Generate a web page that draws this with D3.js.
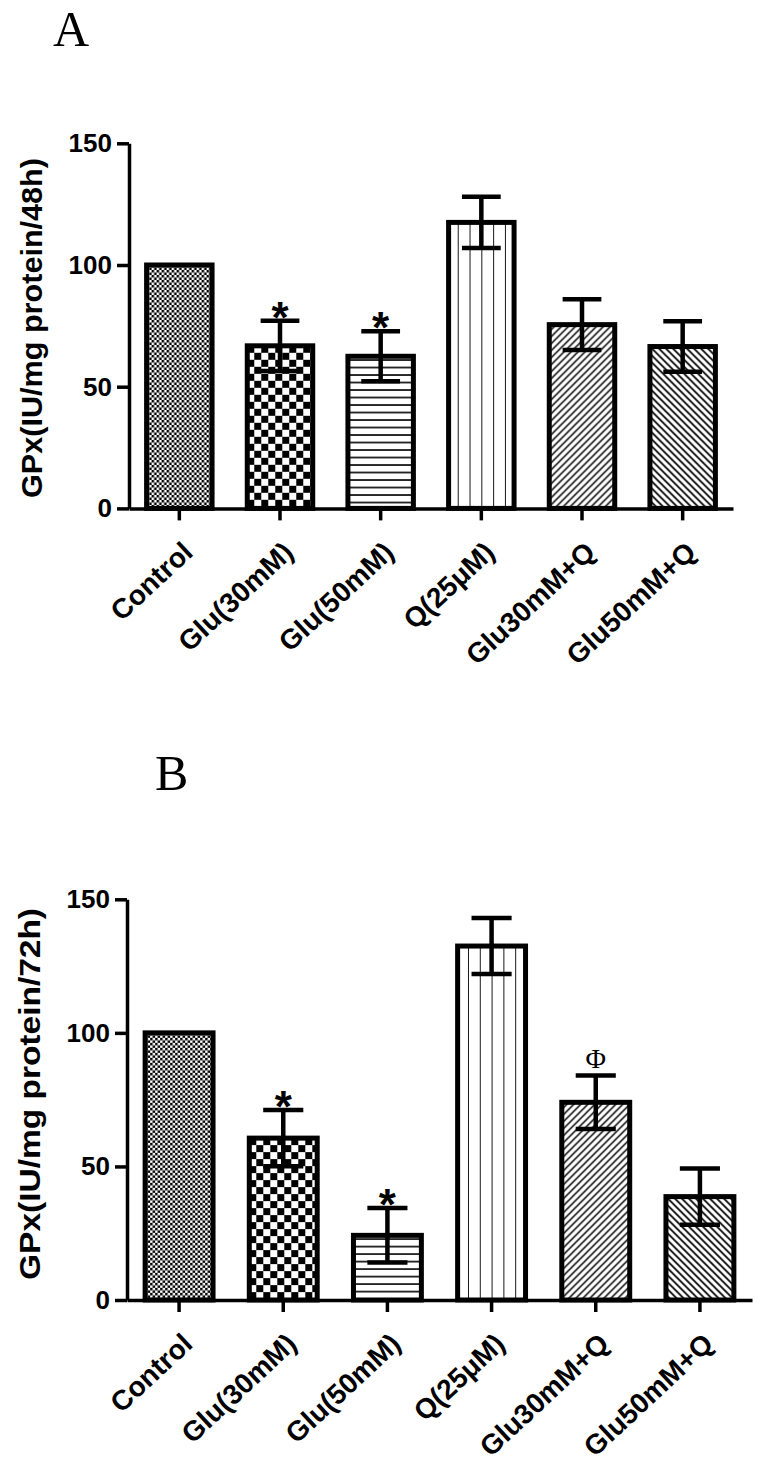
<!DOCTYPE html>
<html>
<head>
<meta charset="utf-8">
<script src="https://cdn.jsdelivr.net/npm/d3@7"></script>
<style>
  html, body { margin: 0; padding: 0; background: #fff; }
  svg { display: block; }
  text { font-family: "Liberation Sans", Arial, sans-serif; }
</style>
</head>
<body>
<svg id="chart" width="763" height="1470"></svg>
<script>
// ---------------- data ----------------
const categories = ["Control", "Glu(30mM)", "Glu(50mM)", "Q(25\u03bcM)", "Glu30mM+Q", "Glu50mM+Q"];
const yTicks = [0, 50, 100, 150];

const meansA = [100, 66.8, 62.5, 117.5, 75.5, 66.5];
const errA   = [0, 10.3, 10.3, 10.5, 10.4, 10.4];
const marksA = ["", "*", "*", "", "", ""];

const meansB = [100, 60.6, 24.2, 132.5, 74, 38.7];
const errB   = [0, 10.5, 10.2, 10.5, 10, 10.5];
const marksB = ["", "*", "*", "", "\u03a6", ""];

const patternKinds = ["fineCheck", "coarseCheck", "hLines", "vLines", "diagUp", "diagDown"];

// ---------------- drawing ----------------
const svg = d3.select("#chart");
const defs = svg.append("defs");

function makePattern(id, kind, ox, oy) {
  let p;
  if (kind === "fineCheck") {
    p = defs.append("pattern").attr("id", id).attr("patternUnits", "userSpaceOnUse")
      .attr("x", ox).attr("y", oy).attr("width", 5).attr("height", 5);
    p.append("rect").attr("width", 5).attr("height", 5).attr("fill", "#fff");
    p.append("rect").attr("x", 0).attr("y", 0).attr("width", 2.5).attr("height", 2.5).attr("fill", "#000");
    p.append("rect").attr("x", 2.5).attr("y", 2.5).attr("width", 2.5).attr("height", 2.5).attr("fill", "#000");
  } else if (kind === "coarseCheck") {
    p = defs.append("pattern").attr("id", id).attr("patternUnits", "userSpaceOnUse")
      .attr("x", ox).attr("y", oy).attr("width", 14).attr("height", 14);
    p.append("rect").attr("width", 14).attr("height", 14).attr("fill", "#fff");
    p.append("rect").attr("x", 0).attr("y", 0).attr("width", 7).attr("height", 7).attr("fill", "#000");
    p.append("rect").attr("x", 7).attr("y", 7).attr("width", 7).attr("height", 7).attr("fill", "#000");
  } else if (kind === "hLines") {
    p = defs.append("pattern").attr("id", id).attr("patternUnits", "userSpaceOnUse")
      .attr("x", ox).attr("y", oy).attr("width", 10).attr("height", 7.5);
    p.append("rect").attr("width", 10).attr("height", 7.5).attr("fill", "#fff");
    p.append("line").attr("x1", 0).attr("x2", 10).attr("y1", 3.75).attr("y2", 3.75)
      .attr("stroke", "#000").attr("stroke-width", 1.6);
  } else if (kind === "vLines") {
    p = defs.append("pattern").attr("id", id).attr("patternUnits", "userSpaceOnUse")
      .attr("x", ox).attr("y", oy).attr("width", 11.8).attr("height", 10);
    p.append("rect").attr("width", 11.8).attr("height", 10).attr("fill", "#fff");
    p.append("line").attr("x1", 0).attr("x2", 0).attr("y1", 0).attr("y2", 10)
      .attr("stroke", "#000").attr("stroke-width", 1.8);
  } else if (kind === "diagUp") {
    p = defs.append("pattern").attr("id", id).attr("patternUnits", "userSpaceOnUse")
      .attr("x", ox).attr("y", oy).attr("width", 7).attr("height", 7);
    p.append("rect").attr("width", 7).attr("height", 7).attr("fill", "#fff");
    p.append("path").attr("d", "M-1,1 l2,-2 M0,7 l7,-7 M6,8 l2,-2")
      .attr("stroke", "#000").attr("stroke-width", 1.5);
  } else {
    p = defs.append("pattern").attr("id", id).attr("patternUnits", "userSpaceOnUse")
      .attr("x", ox).attr("y", oy).attr("width", 7).attr("height", 7);
    p.append("rect").attr("width", 7).attr("height", 7).attr("fill", "#fff");
    p.append("path").attr("d", "M-1,6 l2,2 M0,0 l7,7 M6,-1 l2,2")
      .attr("stroke", "#000").attr("stroke-width", 1.7);
  }
}

function drawPanel(cfg) {
  const g = svg.append("g");
  const x = d3.scaleBand().domain(categories).range([cfg.x0, cfg.x1])
    .paddingInner(0.3).paddingOuter(0.15);
  const y = d3.scaleLinear().domain([0, 150]).range([cfg.yBot, cfg.yTop]);

  const rows = categories.map((c, i) => ({
    cat: c, mean: cfg.means[i], err: cfg.errs[i], mark: cfg.marks[i], kind: patternKinds[i]
  }));

  // patterns, one per bar
  rows.forEach((d, i) => {
    let ox = x(d.cat) + 2.5;
    if (d.kind === "vLines") ox = x(d.cat) + x.bandwidth() / 2 - 1.5 * 11.8 - 5.9;
    makePattern(cfg.id + "-p" + i, d.kind, ox, y(d.mean));
  });

  // title
  g.append("text").attr("x", cfg.titleX).attr("y", cfg.titleY)
    .style("font-family", "'Liberation Serif', 'Times New Roman', serif")
    .style("font-size", "50px").text(cfg.title);

  // bars
  g.selectAll("rect.bar").data(rows).join("rect").attr("class", "bar")
    .attr("x", d => x(d.cat) + 2.5)
    .attr("width", x.bandwidth() - 5)
    .attr("y", d => y(d.mean))
    .attr("height", d => y(0) - y(d.mean))
    .attr("fill", (d, i) => `url(#${cfg.id}-p${i})`)
    .attr("stroke", "#000").attr("stroke-width", 5);

  // error bars
  const capW = x.bandwidth() * 0.55;
  const eb = g.selectAll("g.err").data(rows.filter(d => d.err > 0)).join("g").attr("class", "err")
    .attr("stroke", "#000").attr("stroke-width", 4.5);
  eb.append("line")
    .attr("x1", d => x(d.cat) + x.bandwidth() / 2).attr("x2", d => x(d.cat) + x.bandwidth() / 2)
    .attr("y1", d => y(d.mean - d.err)).attr("y2", d => y(d.mean + d.err));
  eb.append("line")
    .attr("x1", d => x(d.cat) + x.bandwidth() / 2 - capW / 2).attr("x2", d => x(d.cat) + x.bandwidth() / 2 + capW / 2)
    .attr("y1", d => y(d.mean + d.err)).attr("y2", d => y(d.mean + d.err));
  eb.append("line")
    .attr("x1", d => x(d.cat) + x.bandwidth() / 2 - capW / 2).attr("x2", d => x(d.cat) + x.bandwidth() / 2 + capW / 2)
    .attr("y1", d => y(d.mean - d.err)).attr("y2", d => y(d.mean - d.err));

  // significance marks
  g.selectAll("text.mark").data(rows.filter(d => d.mark)).join("text").attr("class", "mark")
    .attr("x", d => x(d.cat) + x.bandwidth() / 2)
    .attr("y", d => d.mark === "*" ? y(d.mean + d.err) + 12 : y(d.mean + d.err) - 8)
    .attr("text-anchor", "middle")
    .style("font-family", d => d.mark === "*" ? "'Liberation Sans', Arial, sans-serif" : "'Liberation Serif', 'Times New Roman', serif")
    .style("font-weight", d => d.mark === "*" ? "bold" : "normal")
    .style("font-size", d => d.mark === "*" ? "44px" : "28px")
    .text(d => d.mark);

  // y axis
  const ya = g.append("g").attr("transform", `translate(${cfg.x0},0)`)
    .call(d3.axisLeft(y).tickValues(yTicks).tickSize(12).tickSizeOuter(0).tickPadding(5));
  ya.select(".domain").attr("stroke-width", 3.5);
  ya.selectAll(".tick line").attr("stroke-width", 3.5);
  ya.selectAll(".tick text").style("font-size", "26px").style("font-weight", "bold")
    .style("font-family", "'Liberation Sans', Arial, sans-serif").attr("fill", "#000");

  // x axis
  const xa = g.append("g").attr("transform", `translate(0,${cfg.yBot})`)
    .call(d3.axisBottom(x).tickSize(12).tickSizeOuter(0));
  xa.select(".domain").attr("stroke-width", 3.5);
  xa.selectAll(".tick line").attr("stroke-width", 3.5);
  xa.selectAll(".tick text")
    .style("font-size", "28px").style("font-weight", "bold")
    .style("font-family", "'Liberation Sans', Arial, sans-serif").attr("fill", "#000")
    .attr("text-anchor", "end")
    .attr("dy", null).attr("y", null)
    .attr("transform", "translate(15,46) rotate(-43)");

  // y label
  g.append("text")
    .attr("transform", `translate(${cfg.labelX},${cfg.labelCY}) rotate(-90)`)
    .attr("text-anchor", "middle")
    .attr("textLength", cfg.labelLen).attr("lengthAdjust", "spacingAndGlyphs")
    .style("font-size", "30px").style("font-weight", "bold")
    .text(cfg.yLabel);
}

drawPanel({
  id: "A", title: "A", titleX: 53, titleY: 46,
  x0: 129, x1: 733, yTop: 143.3, yBot: 508.4,
  labelX: 42, labelCY: 328, labelLen: 340,
  yLabel: "GPx(IU/mg protein/48h)",
  means: meansA, errs: errA, marks: marksA
});
drawPanel({
  id: "B", title: "B", titleX: 155, titleY: 790,
  x0: 127, x1: 752, yTop: 899.3, yBot: 1300,
  labelX: 40, labelCY: 1094, labelLen: 372,
  yLabel: "GPx(IU/mg protein/72h)",
  means: meansB, errs: errB, marks: marksB
});
</script>
</body>
</html>
